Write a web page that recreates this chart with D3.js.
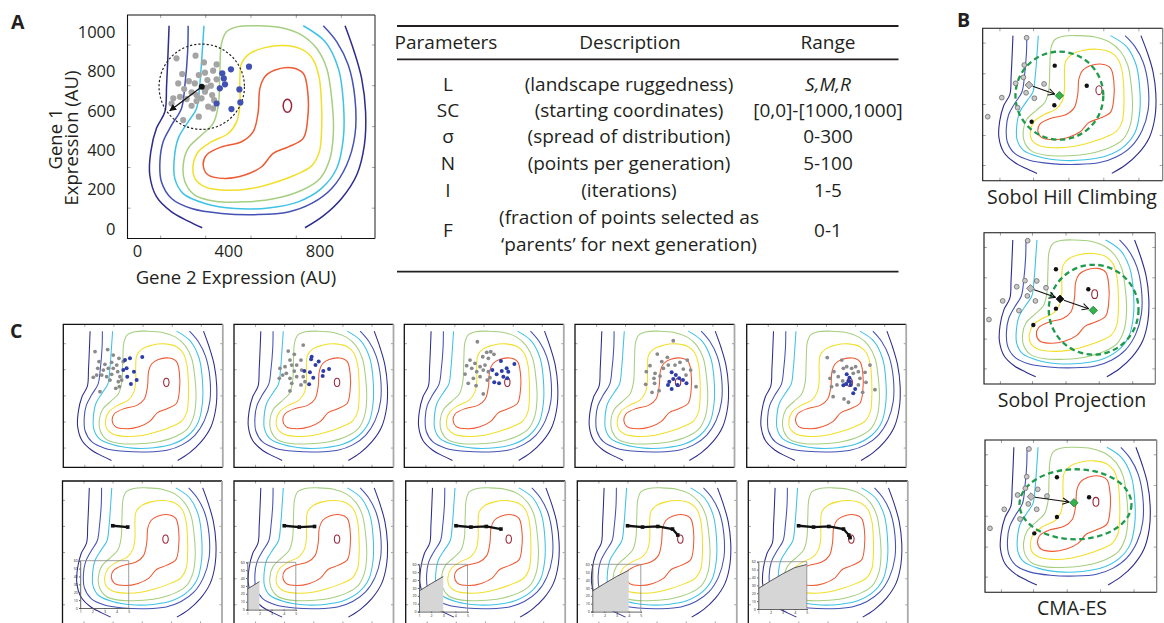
<!DOCTYPE html>
<html><head><meta charset="utf-8">
<script src="https://cdn.jsdelivr.net/npm/d3@7"></script>
<style>
body{margin:0;background:#fff}
svg{display:block}
text{font-family:'Open Sans',sans-serif;fill:#231f20}
</style>
</head><body>
<svg id="c" width="1164" height="623"></svg>
<script>
// ---------- DATA (landscape contours, % of frame: [x from left, y from top]) ----------
const navyLeft=[[16.8,4.8],[16.4,16.4],[15.8,31.3],[15.1,43.3],[11.7,50.7],[9.4,61.2],[9.0,71.6],[11.7,81.3],[17.8,88.1],[24.5,92.2],[30.2,95.2]];
const navyRight=[[71.7,95.2],[79.1,89.9],[86.5,82.1],[92.6,71.6],[95.7,58.2],[96.2,43.3],[94.6,28.4],[91.6,16.4],[87.9,4.8]];
const blueLine=[[24.5,4.8],[24.3,16.4],[23.2,31.3],[21.8,41.8],[17.8,49.3],[14.4,56.7],[13.1,65.7],[13.7,74.6],[17.8,82.1],[25.9,86.6],[38.0,88.8],[52.8,89.3],[65.0,88.1],[74.4,84.3],[82.5,77.6],[88.5,67.2],[91.9,53.7],[91.9,37.3],[89.2,22.4],[84.5,11.9],[79.1,4.8]];
const cyanLine=[[30.9,4.8],[30.2,16.4],[29.2,31.3],[27.9,41.8],[24.5,47.8],[20.5,55.2],[18.9,64.2],[19.1,73.1],[22.5,79.9],[31.3,84.3],[43.4,86.6],[56.9,86.3],[69.0,83.6],[78.4,77.6],[84.5,68.7],[87.2,55.2],[87.2,38.8],[85.2,23.9],[79.8,11.9],[71.0,4.8]];
const greenLine=[[38.0,12.7],[40.0,7.5],[44.7,5.2],[52.8,4.8],[62.3,5.7],[70.4,9.0],[76.4,14.9],[80.5,23.9],[82.5,37.3],[83.2,52.2],[81.8,64.2],[77.8,73.1],[70.4,78.4],[59.6,82.1],[47.4,83.6],[35.3,83.3],[27.2,80.6],[23.2,74.6],[22.5,67.2],[24.5,59.7],[29.9,53.7],[34.6,48.5],[36.7,40.3],[37.3,25.4]];
const yellowLine=[[46.1,21.6],[49.5,17.2],[55.5,14.6],[63.6,13.7],[71.0,15.7],[75.1,20.1],[77.5,28.4],[78.4,40.3],[78.4,52.2],[77.5,61.2],[74.4,67.5],[67.7,71.6],[58.2,75.4],[50.1,77.6],[39.4,78.4],[31.3,76.9],[27.2,73.1],[26.5,67.2],[28.6,61.2],[34.0,56.7],[40.7,53.0],[44.1,47.8],[45.4,40.3],[45.4,28.4]];
const redLine=[[59.6,24.6],[66.3,23.6],[71.0,26.1],[72.8,34.3],[72.8,46.3],[71.0,55.2],[65.0,59.0],[58.9,61.9],[54.2,67.9],[47.4,71.6],[39.4,73.1],[32.6,71.6],[30.6,67.2],[31.9,62.7],[38.0,59.0],[46.1,56.7],[50.8,52.2],[52.8,43.3],[53.5,32.8],[55.5,27.6]];
const peak=[64.6,40.6], peakRadius=[1.7,2.9];

// ---------- Panel A ----------
const aXTicks=[0,400,800], aYTicks=[0,200,400,600,800,1000];
const aGray=[[19.8,19.4],[27.5,18.2],[30.9,21.2],[36.0,22.1],[22.1,26.4],[28.8,26.9],[31.3,25.8],[34.6,24.9],[24.8,29.6],[20.5,30.6],[27.2,30.6],[32.3,29.1],[36.0,28.8],[22.9,33.1],[31.9,32.5],[33.7,31.6],[25.9,34.6],[27.9,35.8],[18.5,37.3],[21.2,36.6],[23.9,37.6],[31.3,34.3],[34.2,35.8],[35.0,38.1],[27.9,38.5],[25.9,40.6],[32.6,41.0],[34.6,41.8],[28.8,45.5],[22.5,47.0],[17.8,39.6],[29.9,37.3]];
const aBlue=[[38.3,26.1],[41.8,24.3],[49.1,23.1],[39.4,31.0],[37.3,32.8],[45.2,33.3],[36.0,39.6],[42.0,42.1],[45.6,39.1],[38.9,28.4]];
const aCenter=[30.0,32.1], aArrowEnd=[17.1,42.8], aRadius=17.25;

// ---------- Table ----------
const tabParams=["L","SC","σ","N","I","F"];
const tabDesc=[["(landscape ruggedness)"],["(starting coordinates)"],["(spread of distribution)"],["(points per generation)"],["(iterations)"],["(fraction of points selected as","‘parents’ for next generation)"]];
const tabRange=["S,M,R","[0,0]-[1000,1000]","0-300","5-100","1-5","0-1"];

// ---------- Panel B ----------
const bGray=[
 [[24.4,6.2],[23.1,24.1],[22.6,32.2],[18.3,36.1],[24.1,42.3],[34.1,36.5],[28.7,45.9],[10.6,45.5],[19.4,52.1],[2.8,58.0]],
 [[25.5,5.3],[23.9,31.7],[19.1,35.7],[30.8,31.9],[36.2,36.4],[25.3,41.8],[30.0,45.1],[10.9,45.1],[20.4,51.5],[2.9,57.4]],
 [[25.6,5.9],[24.3,24.1],[23.5,31.7],[19.0,36.1],[30.7,32.4],[36.1,36.8],[25.2,42.0],[30.1,45.5],[11.2,45.5],[20.4,51.9],[2.9,58.0]]];
const bBlack=[
 [[40.0,24.5],[57.8,37.7],[39.8,50.5],[27.2,61.3]],
 [[42.0,24.2],[60.9,37.4],[42.0,50.2],[28.8,61.0]],
 [[41.9,24.5],[60.6,37.6],[41.9,50.6],[28.7,61.3]]];
const bStart=[[25.7,37.2],[27.1,36.8],[26.8,37.2]];
const bMid=[null,[44.4,43.8],null];
const bEnd=[[42.6,44.2],[63.8,51.3],[51.8,41.2]];
const bSpread=[[42.6,44.2,24.4,28.9],[64.0,50.9,26.2,29.7],[52.7,42.2,32.6,23.0]];
const bLabels=["Sobol Hill Climbing","Sobol Projection","CMA-ES"];

// ---------- Panel C ----------
const cGray=[
 [[19.9,19.1],[27.8,17.7],[31.3,21.5],[34.9,23.8],[22.4,26.1],[26.1,28.0],[30.3,26.6],[33.5,28.5],[21.6,30.8],[25.1,32.0],[28.2,30.8],[31.3,30.8],[34.1,33.1],[24.1,35.5],[27.2,36.6],[30.3,35.0],[18.8,37.1],[20.9,35.5],[29.3,39.0],[34.5,40.1],[36.6,39.0],[35.1,43.6],[32.9,44.8],[23.0,47.1],[35.5,36.6],[37.6,26.1]],
 [[34.0,18.7],[43.4,14.5],[37.8,21.0],[42.0,25.0],[35.1,25.0],[32.0,29.6],[28.8,30.8],[36.2,28.5],[39.3,28.5],[32.8,34.3],[37.8,32.7],[42.4,32.0],[30.5,35.5],[28.4,37.8],[35.1,37.8],[39.3,36.6],[43.4,36.6],[36.2,41.3],[42.0,42.4],[35.1,46.6],[44.5,40.1]],
 [[45.8,12.2],[51.7,19.6],[54.2,19.2],[56.2,21.0],[49.2,22.7],[52.7,23.8],[41.2,25.0],[39.1,28.9],[44.3,27.3],[47.5,29.6],[50.6,28.5],[42.3,30.8],[45.4,33.1],[38.1,34.8],[49.5,32.0],[52.7,33.1],[43.3,37.8],[47.5,36.6],[40.1,41.3],[45.0,42.9],[52.0,39.0],[53.7,37.3],[49.5,48.7]],
 [[61.6,11.5],[51.6,20.8],[57.9,23.1],[54.4,26.1],[47.0,28.9],[44.7,33.1],[50.2,34.3],[55.4,30.8],[58.5,28.5],[65.8,26.6],[70.4,25.0],[49.5,37.8],[53.3,36.2],[44.3,42.0],[49.9,41.3],[52.7,46.4],[48.3,47.6],[69.6,35.5],[72.5,32.0],[75.9,43.6],[67.9,31.3],[62.7,28.5]],
 [[50.5,23.3],[59.6,25.0],[54.7,33.1],[57.4,36.6],[52.2,37.8],[60.6,30.8],[62.7,29.6],[65.8,30.8],[68.3,29.6],[70.0,33.1],[71.0,37.8],[74.2,33.6],[77.3,28.5],[74.8,40.6],[72.7,47.6],[80.4,45.7],[70.0,42.4],[60.2,39.6],[56.6,42.4],[54.2,50.6],[61.0,52.2],[63.8,54.5],[53.2,43.6],[66.8,34.3]]];
const cBlue=[
 [[38.7,25.0],[41.8,23.8],[49.5,22.9],[37.6,32.0],[39.7,30.8],[44.3,33.1],[40.1,36.6],[46.0,39.0],[42.4,41.7]],
 [[48.7,22.7],[48.3,24.5],[53.1,26.1],[51.1,28.5],[47.6,33.6],[44.1,32.7],[56.0,32.7],[59.6,31.3],[49.7,37.3],[55.6,36.2],[47.1,42.0]],
 [[60.6,25.7],[55.2,32.0],[61.1,32.7],[65.2,33.1],[69.0,27.8],[57.9,35.0],[62.1,36.6],[64.6,37.8],[56.4,40.6],[59.4,41.3],[64.2,30.8]],
 [[60.6,33.6],[63.2,35.5],[65.3,37.8],[61.6,38.3],[59.1,40.1],[67.7,39.0],[69.9,41.3],[60.6,45.2],[58.3,42.4],[64.3,42.4]],
 [[62.7,35.0],[64.4,37.3],[63.8,39.6],[62.3,41.7],[60.6,42.7],[65.2,42.4],[68.0,45.2],[66.8,48.3],[64.8,40.1]]];
const pathPts=[[31.5,31.3],[40.9,32.2],[50.5,31.8],[59.7,33.6],[63.0,37.8],[63.8,39.6]];
const convIter=[1,2,3,4,5];
const convValue=[26,35.5,44.5,52.5,56.5];
const insetYTicks=[0,10,20,30,40,50,60];

// ---------- LAYOUT / STYLE ----------
const svg=d3.select("#c");
const COL={navy:"#2d2b8c",blue:"#4352b4",cyan:"#3ec2e6",green:"#a6cf80",yellow:"#f2df2a",red:"#ee5a33",dark:"#9a2638"};
const contours=[
 {c:"navy",closed:false,pts:navyLeft},{c:"navy",closed:false,pts:navyRight},
 {c:"blue",closed:false,pts:blueLine},{c:"cyan",closed:false,pts:cyanLine},
 {c:"green",closed:true,pts:greenLine},{c:"yellow",closed:true,pts:yellowLine},
 {c:"red",closed:true,pts:redLine}];
const tickA=[13.2,31.4,49.7,68.0,86.2];
const tickBx=[9.3,28,47.6,67,86.5], tickBy=[9.4,29.5,49.7,70,89.7];
const fmtInt=d3.format("d");

const defs=svg.append("defs");
defs.append("marker").attr("id","arrF").attr("viewBox","0 0 10 10").attr("refX",9).attr("refY",5)
 .attr("markerWidth",7).attr("markerHeight",7).attr("markerUnits","userSpaceOnUse").attr("orient","auto")
 .append("path").attr("d","M0,0L10,5L0,10z").attr("fill","#111");
defs.append("marker").attr("id","arrO").attr("viewBox","0 0 10 10").attr("refX",9).attr("refY",5)
 .attr("markerWidth",8).attr("markerHeight",8).attr("markerUnits","userSpaceOnUse").attr("orient","auto")
 .append("path").attr("d","M1,1L9,5L1,9").attr("fill","none").attr("stroke","#111").attr("stroke-width",1.3);

function panel(left,top,w,h,o){
  const g=svg.append("g");
  const x=d3.scaleLinear([0,100],[left,left+w]);
  const y=d3.scaleLinear([0,100],[top,top+h]);
  const tx=o.tx||tickA, ty=o.ty||tickA, L=o.tl||3;
  const tg=g.append("g").attr("color","#8a8a8a");
  const clean=s=>{s.select(".domain").remove();s.selectAll("line").attr("stroke-width",0.8);};
  tg.append("g").attr("transform",`translate(0,${top+h})`).call(d3.axisBottom(x).tickValues(tx).tickSize(-L).tickFormat("")).call(clean);
  tg.append("g").attr("transform",`translate(0,${top})`).call(d3.axisTop(x).tickValues(tx).tickSize(-L).tickFormat("")).call(clean);
  tg.append("g").attr("transform",`translate(${left},0)`).call(d3.axisLeft(y).tickValues(ty).tickSize(-L).tickFormat("")).call(clean);
  tg.append("g").attr("transform",`translate(${left+w},0)`).call(d3.axisRight(y).tickValues(ty).tickSize(-L).tickFormat("")).call(clean);
  contours.forEach(k=>{
    const ln=d3.line().x(d=>x(d[0])).y(d=>y(d[1])).curve(k.closed?d3.curveCatmullRomClosed.alpha(0.5):d3.curveCatmullRom.alpha(0.5));
    g.append("path").attr("d",ln(k.pts)).attr("fill","none").attr("stroke",COL[k.c]).attr("stroke-width",o.sw);
  });
  g.append("ellipse").attr("cx",x(peak[0])).attr("cy",y(peak[1])).attr("rx",x(peakRadius[0])-x(0)).attr("ry",y(peakRadius[1])-y(0))
    .attr("fill","none").attr("stroke",COL.dark).attr("stroke-width",o.sw);
  const fr=g.append("g").attr("fill","none");
  fr.append("path").attr("d",`M${left+w},${top}H${left}V${top+h}H${left+w}`).attr("stroke","#111").attr("stroke-width",o.fw||1.2);
  fr.append("line").attr("x1",left+w).attr("x2",left+w).attr("y1",top).attr("y2",top+h).attr("stroke",o.rc||"#111").attr("stroke-width",o.rw||1.2);
  return {g,x,y};
}

// ---------- Panel A ----------
{
  const L=127.5,T=15,W=247.5,H=223.5;
  const p=panel(L,T,W,H,{sw:1.5,fw:1.1,rc:"#444"});
  const g=p.g, x=p.x, y=p.y;
  const rpx=x(aRadius)-x(0);
  g.append("circle").attr("cx",x(aCenter[0])).attr("cy",y(aCenter[1])).attr("r",rpx)
   .attr("fill","none").attr("stroke","#222").attr("stroke-width",1.2).attr("stroke-dasharray","2.2,2");
  g.selectAll(".ag").data(aGray).join("circle").attr("cx",d=>x(d[0])).attr("cy",d=>y(d[1])).attr("r",3.1).attr("fill","#a4a4a4");
  g.selectAll(".ab").data(aBlue).join("circle").attr("cx",d=>x(d[0])).attr("cy",d=>y(d[1])).attr("r",3.1).attr("fill","#4151b3");
  g.append("line").attr("x1",x(aCenter[0])).attr("y1",y(aCenter[1])).attr("x2",x(aArrowEnd[0])).attr("y2",y(aArrowEnd[1]))
   .attr("stroke","#111").attr("stroke-width",1.3).attr("marker-end","url(#arrF)");
  g.append("circle").attr("cx",x(aCenter[0])).attr("cy",y(aCenter[1])).attr("r",3).attr("fill","#111");
  const xl=d3.scaleLinear([0,800],[137,319.5]);
  const yl=d3.scaleLinear([0,1000],[229,32]);
  const ax=svg.append("g").attr("transform","translate(0,245)")
    .call(d3.axisBottom(xl).tickValues(aXTicks).tickFormat(fmtInt).tickSize(0).tickPadding(0));
  ax.select(".domain").remove();
  ax.selectAll("text").attr("font-size",16.5).attr("font-family","'Open Sans',sans-serif").attr("fill","#231f20");
  const ay=svg.append("g").attr("transform","translate(115.5,0)")
    .call(d3.axisLeft(yl).tickValues(aYTicks).tickFormat(fmtInt).tickSize(0).tickPadding(0));
  ay.select(".domain").remove();
  ay.selectAll("text").attr("font-size",16.5).attr("font-family","'Open Sans',sans-serif").attr("fill","#231f20");
  svg.append("text").attr("x",236).attr("y",283.5).attr("text-anchor","middle").attr("font-size",18.5).text("Gene 2 Expression (AU)");
  svg.append("text").attr("transform","translate(62,139) rotate(-90)").attr("text-anchor","middle").attr("font-size",18.5).text("Gene 1");
  svg.append("text").attr("transform","translate(77.5,138) rotate(-90)").attr("text-anchor","middle").attr("font-size",18.5).text("Expression (AU)");
}

// ---------- Table ----------
{
  const g=svg.append("g");
  [26,59.3,271.7].forEach(yy=>g.append("line").attr("x1",397).attr("x2",898.5).attr("y1",yy).attr("y2",yy).attr("stroke","#231f20").attr("stroke-width",1.8));
  const fs=19;
  g.append("text").attr("x",446).attr("y",48.5).attr("text-anchor","middle").attr("font-size",fs).text("Parameters");
  g.append("text").attr("x",630).attr("y",48.5).attr("text-anchor","middle").attr("font-size",fs).text("Description");
  g.append("text").attr("x",828).attr("y",48.5).attr("text-anchor","middle").attr("font-size",fs).text("Range");
  const rowY=[91,116.5,142.5,169.5,196.5,236.5];
  tabParams.forEach((p,i)=>{
    g.append("text").attr("x",448).attr("y",rowY[i]).attr("text-anchor","middle").attr("font-size",fs).text(p);
    const d=tabDesc[i];
    if(d.length===1) g.append("text").attr("x",629).attr("y",rowY[i]).attr("text-anchor","middle").attr("font-size",fs).text(d[0]);
    else d.forEach((s,j)=>g.append("text").attr("x",629).attr("y",rowY[i]-12.5+j*27).attr("text-anchor","middle").attr("font-size",fs).text(s));
    g.append("text").attr("x",828).attr("y",rowY[i]).attr("text-anchor","middle").attr("font-size",fs)
      .attr("font-style",i===0?"italic":"normal").text(tabRange[i]);
  });
}

// ---------- Panel B ----------
{
  const boxes=[[982.7,28.3,180,152.4],[984,232.7,171.3,151.3],[985,440,171.7,152.3]];
  const labY=[203.5,407,615];
  boxes.forEach((b,i)=>{
    const p=panel(b[0],b[1],b[2],b[3],{sw:1.1,fw:1.1,tx:tickBx,ty:tickBy,rc:"#777"});
    const g=p.g,x=p.x,y=p.y;
    const s=bSpread[i];
    g.append("ellipse").attr("cx",x(s[0])).attr("cy",y(s[1])).attr("rx",x(s[2])-x(0)).attr("ry",y(s[3])-y(0))
      .attr("fill","none").attr("stroke","#1f9a4a").attr("stroke-width",2.3).attr("stroke-dasharray","5.5,3.5");
    g.selectAll(".bg").data(bGray[i]).join("circle").attr("cx",d=>x(d[0])).attr("cy",d=>y(d[1])).attr("r",2.4)
      .attr("fill","#c9c9c9").attr("stroke","#6a6a6a").attr("stroke-width",0.8);
    g.selectAll(".bk").data(bBlack[i]).join("circle").attr("cx",d=>x(d[0])).attr("cy",d=>y(d[1])).attr("r",2.2).attr("fill","#111");
    const chain=[bStart[i]]; if(bMid[i]) chain.push(bMid[i]); chain.push(bEnd[i]);
    for(let k=0;k<chain.length-1;k++){
      const a=[x(chain[k][0]),y(chain[k][1])], c=[x(chain[k+1][0]),y(chain[k+1][1])];
      const dx=c[0]-a[0], dy=c[1]-a[1], dl=Math.hypot(dx,dy);
      g.append("line").attr("x1",a[0]+dx/dl*4).attr("y1",a[1]+dy/dl*4).attr("x2",c[0]-dx/dl*5).attr("y2",c[1]-dy/dl*5)
        .attr("stroke","#111").attr("stroke-width",1.1).attr("marker-end","url(#arrO)");
    }
    const dia=d3.symbol().type(d3.symbolSquare);
    const put=(pt,sz,fill,stroke)=>g.append("path").attr("d",dia.size(sz)()).attr("transform",`translate(${x(pt[0])},${y(pt[1])}) rotate(45)`)
      .attr("fill",fill).attr("stroke",stroke).attr("stroke-width",0.8);
    put(bStart[i],30,"#bdbdbd","#6a6a6a");
    if(bMid[i]) put(bMid[i],30,"#111","#111");
    put(bEnd[i],34,"#34b34a","#1b7a30");
    svg.append("text").attr("x",1072).attr("y",labY[i]).attr("text-anchor","middle").attr("font-size",19.5).text(bLabels[i]);
  });
}

// ---------- Panel C ----------
{
  const topL=[63.3,234,404.3,575,746.7], botL=[62.5,234,405.7,577.3,748.3];
  const W=159.5,H=143, T1=324.3, T2=481;
  topL.forEach((l,i)=>{
    const p=panel(l,T1,W,H,{sw:1.05,fw:1.3,rc:"#a9a9a9",rw:1.8,tl:2.5});
    const g=p.g,x=p.x,y=p.y;
    g.selectAll(".cg").data(cGray[i]).join("circle").attr("cx",d=>x(d[0])).attr("cy",d=>y(d[1])).attr("r",1.9).attr("fill","#8a8a8a");
    g.selectAll(".cb").data(cBlue[i]).join("circle").attr("cx",d=>x(d[0])).attr("cy",d=>y(d[1])).attr("r",2).attr("fill","#2c3daa");
  });
  const insL=[17.7,13.3,13.3,15,10], insT=[79.7,81.3,83.3,83.3,80.7], iW=48.5, iH=47.3;
  botL.forEach((l,i)=>{
    const p=panel(l,T2,W,H,{sw:1.05,fw:1.3,rc:"#a9a9a9",rw:1.8,tl:2.5});
    const g=p.g,x=p.x,y=p.y;
    const pts=pathPts.slice(0,i+2);
    g.append("path").attr("d",d3.line().x(d=>x(d[0])).y(d=>y(d[1]))(pts)).attr("fill","none").attr("stroke","#111").attr("stroke-width",2.3);
    g.selectAll(".pm").data(pts).join("rect").attr("x",d=>x(d[0])-1.8).attr("y",d=>y(d[1])-1.8).attr("width",3.6).attr("height",3.6).attr("fill","#111");
    const il=l+insL[i], it=T2+insT[i];
    const xi=d3.scaleLinear([1,5],[il,il+iW]);
    const yi=d3.scaleLinear([0,60],[it+iH,it]);
    const vals=convValue.slice(0,i+1);
    if(vals.length>1){
      g.append("path").attr("d",d3.area().x((d,j)=>xi(convIter[j])).y0(yi(0)).y1(d=>yi(d))(vals)).attr("fill","#d6d6d6");
      g.append("path").attr("d",d3.line().x((d,j)=>xi(convIter[j])).y(d=>yi(d))(vals)).attr("fill","none").attr("stroke","#444").attr("stroke-width",0.9);
    }
    const ig=g.append("g").attr("color","#555");
    const ixa=ig.append("g").attr("transform",`translate(0,${it+iH})`).call(d3.axisBottom(xi).tickValues(convIter).tickFormat(fmtInt).tickSize(1.2).tickPadding(1.5));
    const iya=ig.append("g").attr("transform",`translate(${il},0)`).call(d3.axisLeft(yi).tickValues(insetYTicks).tickFormat(fmtInt).tickSize(1.2).tickPadding(1.2));
    [ixa,iya].forEach(a=>{a.selectAll("text").attr("font-size",3.6).attr("fill","#444").attr("font-family","'Open Sans',sans-serif");
      a.select(".domain").attr("stroke-width",0.9);});
    ig.append("path").attr("d",`M${il},${it}H${il+iW}V${it+iH}`).attr("fill","none").attr("stroke","#888").attr("stroke-width",0.8);
  });
}

// ---------- Panel letters ----------
[["A",11,28.5],["B",957,27],["C",10,338]].forEach(d=>svg.append("text").attr("x",d[1]).attr("y",d[2])
  .attr("font-family","'Liberation Sans',Arial,sans-serif").attr("font-weight","bold").attr("font-size",19.5).text(d[0]));
</script>
</body></html>
